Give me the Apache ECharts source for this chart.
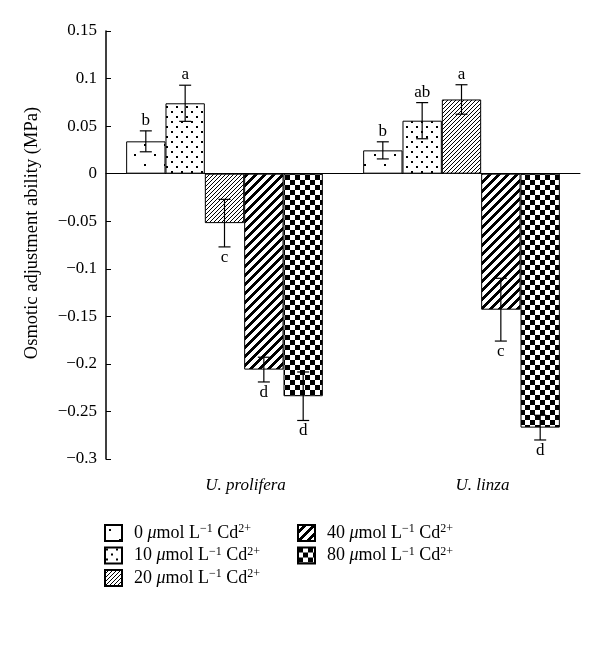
<!DOCTYPE html>
<html>
<head>
<meta charset="utf-8">
<script src="https://cdn.jsdelivr.net/npm/echarts@6/dist/echarts.min.js"></script>
<style>
html,body{margin:0;padding:0;background:#fff;}
#chart{width:600px;height:660px;}
</style>
</head>
<body>
<div id="chart"></div>
<script>
// ---- data ----
const categories = ['U. prolifera', 'U. linza'];
const concentrations = ['0', '10', '20', '40', '80'];
const means0  = [0.034, 0.0245];
const means10 = [0.074, 0.0557];
const means20 = [-0.052, 0.078];
const means40 = [-0.206, -0.143];
const means80 = [-0.234, -0.267];
const err0  = [0.011, 0.009];
const err10 = [0.019, 0.019];
const err20 = [0.025, 0.0155];
const err40 = [0.013, 0.033];
const err80 = [0.0255, 0.013];
const letters0  = ['b', 'b'];
const letters10 = ['a', 'ab'];
const letters20 = ['c', 'a'];
const letters40 = ['d', 'c'];
const letters80 = ['d', 'd'];
const yMin = -0.3, yMax = 0.15, yStep = 0.05;

const meansAll = [means0, means10, means20, means40, means80];
const errAll = [err0, err10, err20, err40, err80];
const lettersAll = [letters0, letters10, letters20, letters40, letters80];

// ---- patterns ----
function makePattern(w, h, draw) {
  const c = document.createElement('canvas');
  c.width = w; c.height = h;
  const ctx = c.getContext('2d');
  ctx.fillStyle = '#fff';
  ctx.fillRect(0, 0, w, h);
  ctx.fillStyle = '#000';
  draw(ctx, w, h);
  return c;
}
const pat0 = makePattern(20, 20, (ctx) => {
  ctx.fillRect(4, 4, 2, 2);
  ctx.fillRect(14, 14, 2, 2);
});
const pat10 = makePattern(10, 10, (ctx) => {
  ctx.fillRect(1, 1, 2, 2);
  ctx.fillRect(6, 6, 2, 2);
});
const pat20 = makePattern(4, 4, (ctx, w, h) => {
  for (let x = 0; x < w; x++) for (let y = 0; y < h; y++) {
    if ((x + y) % 4 === 3) ctx.fillRect(x, y, 1, 1);
  }
});
const pat40 = makePattern(9, 9, (ctx, w, h) => {
  for (let x = 0; x < w; x++) for (let y = 0; y < h; y++) {
    const m = (x + y) % 9;
    if (m >= 5) ctx.fillRect(x, y, 1, 1);
  }
});
const pat80 = makePattern(10, 10, (ctx) => {
  ctx.fillRect(0, 0, 5, 5);
  ctx.fillRect(5, 5, 5, 5);
});
const patterns = [pat0, pat10, pat20, pat40, pat80];

const FONT = '"Liberation Serif", "DejaVu Serif", serif';
const BAR_FRAC = 0.166;

const series = [];
concentrations.forEach((c, k) => {
  series.push({
    name: c,
    type: 'bar',
    xAxisIndex: 0,
    data: meansAll[k],
    barWidth: (BAR_FRAC * 100) + '%',
    barGap: '0%',
    itemStyle: {
      color: { image: patterns[k], repeat: 'repeat' },
      borderColor: '#000',
      borderWidth: 1
    },
    emphasis: { disabled: true },
    z: 2
  });
});
concentrations.forEach((c, k) => {
  series.push({
    name: 'err' + c,
    type: 'custom',
    xAxisIndex: 0,
    z: 10,
    data: categories.map((_, i) => [i, meansAll[k][i], errAll[k][i]]),
    renderItem: function (params, api) {
      const ci = api.value(0), m = api.value(1), e = api.value(2);
      const band = api.size([1, 0])[0];
      const x = api.coord([ci, 0])[0] + (k - 2) * band * BAR_FRAC;
      const yT = api.coord([ci, m + e])[1];
      const yB = api.coord([ci, m - e])[1];
      const cap = 6;
      const st = { stroke: '#000', lineWidth: 1.2 };
      const letter = lettersAll[k][params.dataIndex];
      const pos = m >= 0;
      return {
        type: 'group',
        children: [
          { type: 'line', shape: { x1: x, y1: yT, x2: x, y2: yB }, style: st },
          { type: 'line', shape: { x1: x - cap, y1: yT, x2: x + cap, y2: yT }, style: st },
          { type: 'line', shape: { x1: x - cap, y1: yB, x2: x + cap, y2: yB }, style: st },
          { type: 'text', style: {
              text: letter, x: x, y: pos ? yT - 2 : yB + 2,
              align: 'center', verticalAlign: pos ? 'bottom' : 'top',
              fontFamily: FONT, fontSize: 17, fill: '#000'
          } }
        ]
      };
    }
  });
});

const richText = {
  n: { fontFamily: FONT, fontSize: 18, color: '#000', lineHeight: 20 },
  mu: { fontFamily: FONT, fontSize: 18, fontStyle: 'italic', color: '#000', lineHeight: 20 },
  sup: { fontFamily: FONT, fontSize: 12, color: '#000', lineHeight: 12, verticalAlign: 'top' },
  pad: { width: 7 }
};
const legendFmt = (name) => `{pad|}{n|${name} }{mu|μ}{n|mol L}{sup|−1}{n| Cd}{sup|2+}`;
const legendBase = {
  orient: 'vertical',
  padding: 0,
  itemWidth: 17,
  itemHeight: 16,
  itemGap: 3.5,
  icon: 'rect',
  selectedMode: false,
  formatter: legendFmt,
  textStyle: { rich: richText, fontFamily: FONT, fontSize: 18, color: '#000' }
};

const chart = echarts.init(document.getElementById('chart'), null, { renderer: 'canvas' });
chart.setOption({
  animation: false,
  backgroundColor: '#fff',
  grid: { left: 106, right: 20, top: 31, bottom: 201, containLabel: false },
  legend: [
    Object.assign({}, legendBase, { left: 104, top: 523, data: ['0', '10', '20'] }),
    Object.assign({}, legendBase, { left: 297, top: 523, data: ['40', '80'] })
  ],
  xAxis: [
    {
      type: 'category',
      data: categories,
      axisLine: { show: true, onZero: true, lineStyle: { color: '#000', width: 1 } },
      axisTick: { show: false },
      axisLabel: { show: false },
      splitLine: { show: false }
    },
    {
      type: 'category',
      data: categories,
      position: 'bottom',
      axisLine: { show: false, onZero: false },
      axisTick: { show: false },
      axisLabel: {
        show: true, margin: 18, color: '#000',
        fontFamily: FONT, fontSize: 17, fontStyle: 'italic',
        padding: [0, 0, 0, 42]
      },
      splitLine: { show: false }
    }
  ],
  yAxis: {
    type: 'value',
    min: yMin, max: yMax, interval: yStep,
    name: 'Osmotic adjustment ability (MPa)',
    nameLocation: 'middle',
    nameGap: 64,
    nameTextStyle: { fontFamily: FONT, fontSize: 18.5, color: '#000', padding: [0, 0, 0, 24] },
    axisLine: { show: true, lineStyle: { color: '#000', width: 1.5 } },
    axisTick: { show: true, inside: true, length: 5, lineStyle: { color: '#000', width: 1 } },
    axisLabel: {
      margin: 9, color: '#000', fontFamily: FONT, fontSize: 17,
      formatter: (v) => String(parseFloat(v.toFixed(2))).replace('-', '−')
    },
    splitLine: { show: false }
  },
  series: series
});
</script>
</body>
</html>
